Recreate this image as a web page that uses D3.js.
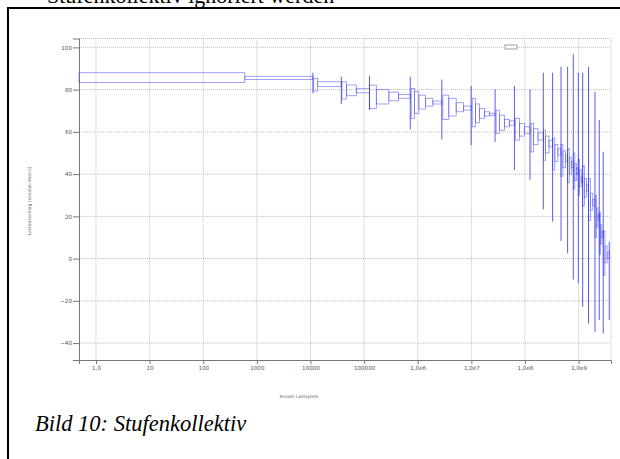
<!DOCTYPE html>
<html>
<head>
<meta charset="utf-8">
<script src="https://cdn.jsdelivr.net/npm/d3@7"></script>
<style>
  body { margin: 0; background: #fff; }
  .tick text { font-family: "DejaVu Sans", sans-serif; font-size: 5.6px; fill: #555; }
  .axis path, .axis line { stroke: #777; }
  .grid line { stroke: #bdbdbd; stroke-dasharray: 1,1; }
</style>
</head>
<body>
<div id="chart"></div>
<script>
// tick values and labels
var xTicks = [1, 10, 100, 1000, 10000, 100000, 1e6, 1e7, 1e8, 1e9];
var xTickLabels = ["1,0", "10", "100", "1000", "10000", "100000", "1,0e6", "1,0e7", "1,0e8", "1,0e9"];
var yTicks = [-40, -20, 0, 20, 40, 60, 80, 100];

// step blocks: [from cycles, to cycles, upper, lower]
var steps = [
  [0.482, 596, 88.0, 83.4], [596, 1.11e4, 86.3, 84.8],
  [1.15e4, 1.36e4, 85.3, 79.3], [1.36e4, 3.76e4, 83.7, 81.4],
  [3.86e4, 4.67e4, 83.7, 75.5], [4.67e4, 7.16e4, 82.2, 77.1], [7.16e4, 1.26e5, 80.6, 78.5],
  [1.26e5, 1.69e5, 82.1, 71.1], [1.69e5, 2.9e5, 80.1, 73.2], [2.9e5, 4.39e5, 78.8, 74.7], [4.39e5, 7.25e5, 77.7, 75.9],
  [7.57e5, 8.71e5, 80.6, 66.4], [8.71e5, 1.05e6, 79.0, 68.8], [1.05e6, 1.4e6, 77.4, 70.8], [1.4e6, 1.91e6, 75.9, 72.2], [1.91e6, 2.81e6, 74.6, 73.2],
  [2.94e6, 3.79e6, 77.4, 65.9], [3.79e6, 5.21e6, 75.9, 67.5], [5.21e6, 7.13e6, 73.8, 69.5], [7.13e6, 9.91e6, 72.2, 70.3],
  [1.04e7, 1.19e7, 75.9, 62.4], [1.19e7, 1.42e7, 73.2, 64.3], [1.42e7, 1.75e7, 71.1, 66.4], [1.75e7, 2.17e7, 69.5, 67.5], [2.17e7, 2.77e7, 68.8, 67.8],
  [2.9e7, 3.34e7, 70.3, 59.3], [3.34e7, 4.13e7, 67.9, 60.8], [4.13e7, 5.12e7, 65.9, 62.4], [5.12e7, 6.35e7, 65.2, 63.2],
  [6.62e7, 7.87e7, 66.4, 56.1], [7.87e7, 9.75e7, 64.0, 58.0], [9.75e7, 1.24e8, 62.4, 59.3],
  [1.3e8, 1.45e8, 64.0, 50.5], [1.45e8, 1.75e8, 61.5, 54.0], [1.75e8, 2.2e8, 59.5, 56.1],
  [2.2e8, 2.4e8, 60.8, 46.5], [2.4e8, 2.8e8, 58.0, 50.0], [2.8e8, 3.28e8, 56.0, 52.9],
  [3.28e8, 3.6e8, 57, 42], [3.6e8, 4.1e8, 54, 46], [4.1e8, 4.7e8, 52, 49],
  [4.7e8, 5.1e8, 54, 39], [5.1e8, 5.7e8, 51, 43], [5.7e8, 6.24e8, 49, 46],
  [6.24e8, 6.7e8, 52, 36], [6.7e8, 7.3e8, 48, 40], [7.3e8, 7.96e8, 46, 43],
  [7.96e8, 8.5e8, 50, 33], [8.5e8, 9.2e8, 45, 37], [9.2e8, 9.87e8, 43, 40],
  [9.87e8, 1.04e9, 47, 30], [1.04e9, 1.12e9, 42, 34], [1.12e9, 1.19e9, 39, 36],
  [1.19e9, 1.28e9, 44, 25], [1.28e9, 1.4e9, 38, 29], [1.4e9, 1.53e9, 35, 32],
  [1.53e9, 1.66e9, 38, 18], [1.66e9, 1.84e9, 31, 23], [1.84e9, 2.02e9, 28, 25],
  [2.02e9, 2.15e9, 30, 10], [2.15e9, 2.3e9, 24, 15], [2.3e9, 2.43e9, 21, 18],
  [2.43e9, 2.55e9, 22, 2], [2.55e9, 2.72e9, 16, 7], [2.72e9, 2.88e9, 13, 10],
  [2.88e9, 3.1e9, 13, -8], [3.1e9, 3.4e9, 6, -2], [3.4e9, 3.73e9, 3, 0]
];

// peaks at the start of each block: [cycles, max, min]
var spikes = [
  [1.11e4, 88.0, 78.2], [3.76e4, 86.1, 73.2], [1.26e5, 86.4, 70.3], [7.25e5, 86.1, 61.2],
  [2.81e6, 84.8, 56.4], [9.91e6, 81.7, 53.7], [2.77e7, 80.1, 55.3], [6.35e7, 81.7, 41.9],
  [1.24e8, 80.1, 37.3], [2.2e8, 88.0, 23.3], [3.28e8, 88.0, 17.5], [4.7e8, 90.8, 8.4],
  [6.24e8, 90.8, 2.5], [7.96e8, 96.8, -9.9], [9.87e8, 88.0, -11.7], [1.19e9, 88.0, -22.8],
  [1.53e9, 90.8, -30.7], [2.02e9, 79.0, -34.7], [2.43e9, 65.6, -29.1], [2.88e9, 50.6, -35.4],
  [3.73e9, 8.0, -29.0]
];

var svgWidth = 620;
var svgHeight = 459;

var svg = d3.select("#chart")
  .append("svg")
  .attr("width", svgWidth)
  .attr("height", svgHeight);

// page frame and surrounding document text
svg.append("rect")
  .attr("x", 8).attr("y", 8)
  .attr("width", 640).attr("height", 480)
  .attr("fill", "none")
  .attr("stroke", "#000")
  .attr("stroke-width", 2);

svg.append("text")
  .attr("x", 47).attr("y", 3)
  .style("font-family", "Liberation Serif, serif")
  .style("font-size", "22px")
  .text("Stufenkollektiv ignoriert werden");

svg.append("text")
  .attr("x", 35).attr("y", 431)
  .style("font-family", "Liberation Serif, serif")
  .style("font-style", "italic")
  .style("font-size", "22.5px")
  .text("Bild 10: Stufenkollektiv");

// scales
var xScale = d3.scaleLog()
  .domain([0.482, 4.02e9])
  .range([79, 611]);

var yScale = d3.scaleLinear()
  .domain([-48, 104.2])
  .range([360, 38.5]);

// grid
var grid = svg.append("g").attr("class", "grid");
grid.selectAll(".vg")
  .data(xTicks.concat([4.02e9]))
  .enter()
  .append("line")
  .attr("x1", d => xScale(d)).attr("x2", d => xScale(d))
  .attr("y1", 38.5).attr("y2", 360);
grid.selectAll(".hg")
  .data(yTicks.concat([104.2]))
  .enter()
  .append("line")
  .attr("x1", 79).attr("x2", 611)
  .attr("y1", d => yScale(d)).attr("y2", d => yScale(d));

// axes
var xAxis = d3.axisBottom(xScale)
  .tickValues(xTicks)
  .tickFormat((d, i) => xTickLabels[i])
  .tickSize(4)
  .tickSizeOuter(4)
  .tickPadding(2);

var yAxis = d3.axisLeft(yScale)
  .tickValues(yTicks)
  .tickSize(6)
  .tickSizeOuter(6)
  .tickPadding(1);

svg.append("g")
  .attr("class", "axis")
  .attr("transform", "translate(0, 360)")
  .call(xAxis);

svg.append("g")
  .attr("class", "axis")
  .attr("transform", "translate(79, 0)")
  .call(yAxis);

// step blocks
svg.append("g")
  .selectAll("rect")
  .data(steps)
  .enter()
  .append("rect")
  .attr("x", d => xScale(d[0]))
  .attr("y", d => yScale(d[2]))
  .attr("width", d => xScale(d[1]) - xScale(d[0]))
  .attr("height", d => yScale(d[3]) - yScale(d[2]))
  .attr("fill", "none")
  .attr("stroke", "#5a5af5")
  .attr("stroke-opacity", 0.7)
  .attr("stroke-width", 0.8);

// peaks
svg.append("g")
  .selectAll("line")
  .data(spikes)
  .enter()
  .append("line")
  .attr("x1", d => xScale(d[0])).attr("x2", d => xScale(d[0]))
  .attr("y1", d => yScale(d[1])).attr("y2", d => yScale(d[2]))
  .attr("stroke", "#2424e4")
  .attr("stroke-opacity", 0.75)
  .attr("stroke-width", 1);

// empty legend box
svg.append("rect")
  .attr("x", 505).attr("y", 45)
  .attr("width", 12).attr("height", 4)
  .attr("fill", "#fff")
  .attr("stroke", "#888")
  .attr("stroke-width", 0.8);

// axis titles
svg.append("text")
  .attr("x", 299).attr("y", 398)
  .attr("text-anchor", "middle")
  .style("font-family", "DejaVu Sans, sans-serif")
  .style("font-size", "4.5px")
  .style("fill", "#666")
  .text("Anzahl Lastspiele");

svg.append("text")
  .attr("transform", "translate(31, 201) rotate(-90)")
  .attr("text-anchor", "middle")
  .style("font-family", "DejaVu Sans, sans-serif")
  .style("font-size", "4.5px")
  .style("fill", "#666")
  .text("Lastausschlag (absolut/relativ)");
</script>
</body>
</html>
